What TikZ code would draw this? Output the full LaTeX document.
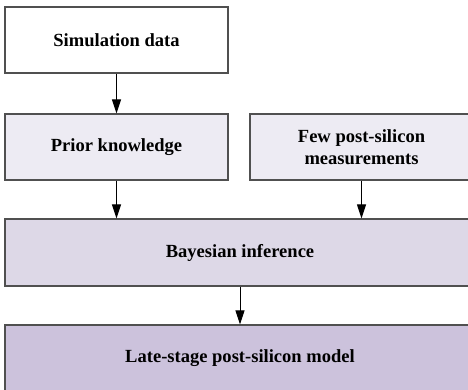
\documentclass[tikz,border=0pt]{standalone}
\usepackage{fontspec}
\setmainfont{Liberation Serif}
\usetikzlibrary{arrows.meta}

\definecolor{boxline}{HTML}{505050}
\definecolor{fillA}{HTML}{EDEBF3}
\definecolor{fillB}{HTML}{DDD8E7}
\definecolor{fillC}{HTML}{CCC2DC}

\begin{document}
\begin{tikzpicture}[x=1bp,y=1bp,
blk/.style={draw=boxline,line width=1.3bp,minimum height=66bp,inner sep=0pt,
font=\fontsize{18.6}{22}\selectfont\bfseries,align=center},
link/.style={-{Triangle[length=14bp,width=9bp]},line width=1bp}]
\clip (0,0) rectangle (468,389);
\node[blk,fill=white,minimum width=223bp] (sim) at (116.5,349) {Simulation data};
\node[blk,fill=fillA,minimum width=223bp] (prior) at (116.5,242) {Prior knowledge};
\node[blk,fill=fillA,minimum width=223bp] (few) at (361.5,242) {Few post-silicon\\measurements};
\node[blk,fill=fillB,minimum width=470bp,minimum height=67bp] (bayes) at (240,136.5) {Bayesian inference};
\node[blk,fill=fillC,minimum width=470bp] (late) at (240,31) {Late-stage post-silicon model};
\draw[link] (sim.south) -- (prior.north);
\draw[link] (prior.south) -- (prior.south |- bayes.north);
\draw[link] (few.south) -- (few.south |- bayes.north);
\draw[link] (bayes.south) -- (late.north);
\end{tikzpicture}
\end{document}
